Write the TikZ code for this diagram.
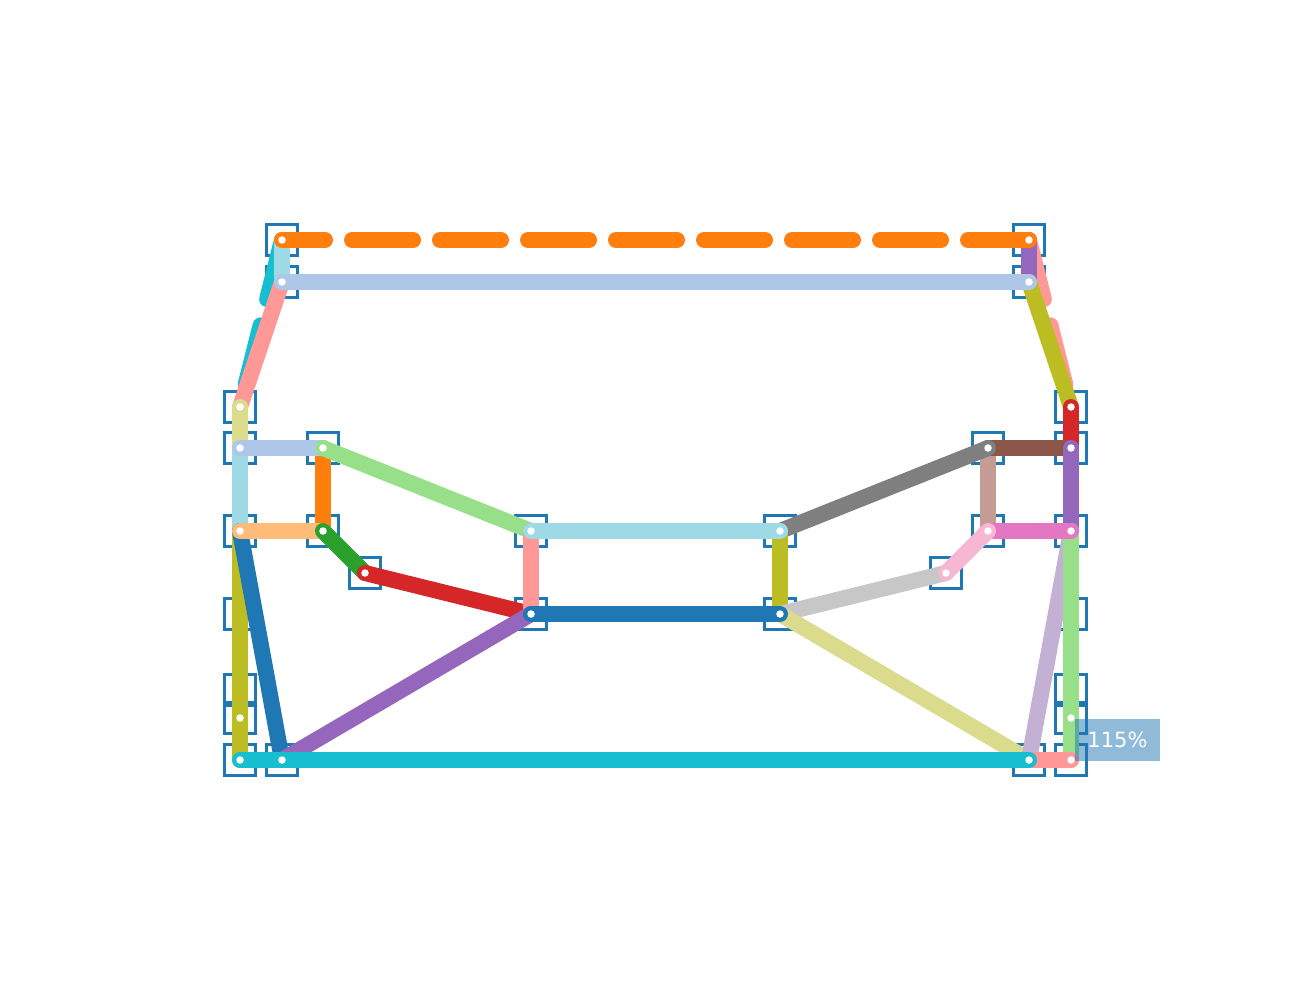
\documentclass[tikz,border=0pt]{standalone}
\usepackage{fontspec}
\setmainfont{DejaVu Sans}
\usepackage{xcolor}
\usepackage{tikz}
\usetikzlibrary{positioning}
\definecolor{tabBlue}{HTML}{1F77B4}
\definecolor{tabLightBlue}{HTML}{AEC7E8}
\definecolor{tabOrange}{HTML}{FF7F0E}
\definecolor{tabPeach}{HTML}{FFBB78}
\definecolor{tabGreen}{HTML}{2CA02C}
\definecolor{tabLightGreen}{HTML}{98DF8A}
\definecolor{tabRed}{HTML}{D62728}
\definecolor{tabPink}{HTML}{FF9896}
\definecolor{tabPurple}{HTML}{9467BD}
\definecolor{tabLavender}{HTML}{C5B0D5}
\definecolor{tabBrown}{HTML}{8C564B}
\definecolor{tabRosy}{HTML}{C49C94}
\definecolor{tabMagenta}{HTML}{E377C2}
\definecolor{tabLightPink}{HTML}{F7B6D2}
\definecolor{tabGray}{HTML}{7F7F7F}
\definecolor{tabLightGray}{HTML}{C7C7C7}
\definecolor{tabOlive}{HTML}{BCBD22}
\definecolor{tabKhaki}{HTML}{DBDB8D}
\definecolor{tabCyan}{HTML}{17BECF}
\definecolor{tabLightCyan}{HTML}{9EDAE5}

\begin{document}
\begin{tikzpicture}[x=1pt, y=-1pt,
    box/.style={draw=tabBlue, line width=2.5pt, minimum size=31pt, inner sep=0pt},
    edge/.style={line width=16pt, line cap=round},
    dashedge/.style={edge, dash pattern=on 61pt off 27pt},
    dot/.style={circle, fill=white, inner sep=0pt, minimum size=7.5pt},
    tag/.style={fill=tabBlue, fill opacity=0.5, text opacity=1, text=white,
      font=\fontsize{21}{25}\selectfont, minimum width=85pt, minimum height=42pt, inner sep=0pt}]
    \useasboundingbox (0,0) rectangle (1311,1000);
    % station boxes
    \node[box] (a) at (282,240) {}; \node[box] (b) at (282,282) {};
    \node[box] (c) at (1029,240) {}; \node[box] (d) at (1029,282) {};
    \node[box] (e) at (240,407) {}; \node[box] (f) at (1071,407) {};
    \node[box] (g) at (240,448) {}; \node[box] (h) at (323,448) {};
    \node[box] (i) at (988,448) {}; \node[box] (j) at (1071,448) {};
    \node[box] (k) at (240,531) {}; \node[box] (l) at (323,531) {};
    \node[box] (m) at (531,531) {}; \node[box] (n) at (780,531) {};
    \node[box] (o) at (988,531) {}; \node[box] (p) at (1071,531) {};
    \node[box] (q) at (365,573) {}; \node[box] (r) at (946,573) {};
    \node[box] (s) at (531,614) {}; \node[box] (t) at (780,614) {};
    \node[box] (u1) at (240,614) {}; \node[box] (u2) at (1071,614) {};
    \node[box] (v1) at (240,690) {}; \node[box] (v2) at (240,718) {};
    \node[box] (v3) at (240,760) {}; \node[box] (w) at (282,760) {};
    \node[box] (x) at (1029,760) {}; \node[box] (y1) at (1071,690) {};
    \node[box] (y2) at (1071,718) {}; \node[box] (y3) at (1071,760) {};
    % lines
    \draw[dashedge, tabCyan](a.center)--(e.center);\draw[dashedge, tabPink](c.center)--(f.center);
    \draw[edge, tabLightCyan](a.center)--(b.center);\draw[edge, tabPurple](c.center)--(d.center);
    \draw[dashedge, tabOrange](c.center)--(a.center);
    \draw[edge, tabPink](b.center)--(e.center);\draw[edge, tabOlive](d.center)--(f.center);
    \draw[edge, tabLightBlue](b.center)--(d.center);
    \draw[edge, tabKhaki](e.center)--(g.center);\draw[edge, tabRed](f.center)--(j.center);
    \draw[edge, tabLightCyan](g.center)--(k.center);
    \draw[edge, tabOlive](k.center)--(v2.center);\draw[edge, tabOlive](v2.center)--(v3.center);
    \draw[edge, tabBlue](k.center)--(w.center);
    \draw[edge, tabOrange](h.center)--(l.center);\draw[edge, tabLightBlue](g.center)--(h.center);
    \draw[edge, tabPeach](k.center)--(l.center);\draw[edge, tabLightGreen](h.center)--(m.center);
    \draw[edge, tabGreen](l.center)--(q.center);\draw[edge, tabRed](q.center)--(s.center);
    \draw[edge, tabPink](m.center)--(s.center);\draw[edge, tabPurple](s.center)--(w.center);
    \draw[edge, tabRosy](i.center)--(o.center);\draw[edge, tabBrown](i.center)--(j.center);
    \draw[edge, tabGray](n.center)--(i.center);\draw[edge, tabOlive](n.center)--(t.center);
    \draw[edge, tabLightCyan](m.center)--(n.center);
    \draw[edge, tabLightGray](r.center)--(t.center);\draw[edge, tabKhaki](t.center)--(x.center);
    \draw[edge, tabBlue](s.center)--(t.center);
    \draw[edge, tabPurple](j.center)--(p.center);\draw[edge, tabLavender](p.center)--(x.center);
    \draw[edge, tabLightGreen](p.center)--(y2.center);\draw[edge, tabLightGreen](y2.center)--(y3.center);
    \draw[edge, tabMagenta](o.center)--(p.center);\draw[edge, tabLightPink](o.center)--(r.center);
    \draw[edge, tabPink](x.center)--(y3.center);
    \draw[edge, tabCyan](v3.center)--(w.center);\draw[edge, tabCyan](w.center)--(x.center);
    % end dots
    \node[dot] at (a) {}; \node[dot] at (b) {}; \node[dot] at (c) {}; \node[dot] at (d) {};
    \node[dot] at (e) {}; \node[dot] at (f) {}; \node[dot] at (g) {}; \node[dot] at (h) {};
    \node[dot] at (i) {}; \node[dot] at (j) {}; \node[dot] at (k) {}; \node[dot] at (l) {};
    \node[dot] at (m) {}; \node[dot] at (n) {}; \node[dot] at (o) {}; \node[dot] at (p) {};
    \node[dot] at (q) {}; \node[dot] at (r) {}; \node[dot] at (s) {}; \node[dot] at (t) {};
    \node[dot] at (v2) {}; \node[dot] at (v3) {}; \node[dot] at (w) {}; \node[dot] at (x) {};
    \node[dot] at (y2) {}; \node[dot] at (y3) {};
    % zoom label
    \node[tag] (zoom) at (1117.5,740) {115\%};
\end{tikzpicture}
\end{document}
